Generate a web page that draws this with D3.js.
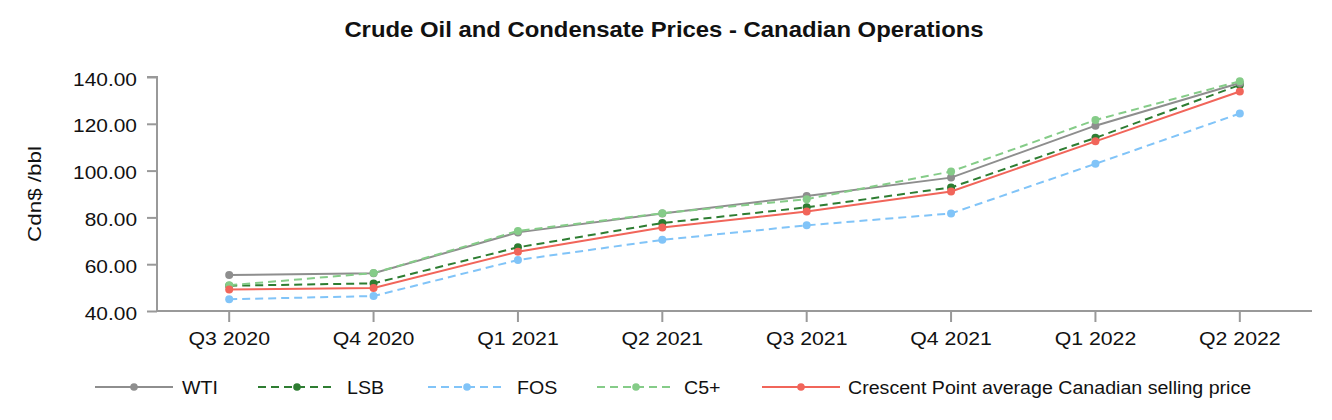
<!DOCTYPE html>
<html><head><meta charset="utf-8">
<script src="https://cdn.jsdelivr.net/npm/d3@7"></script>
<style>body{margin:0;background:#fff;font-family:"Liberation Sans",Arial,sans-serif}</style>
</head><body><svg id="c" width="1332" height="420"></svg>
<script>
const categories = ["Q3 2020","Q4 2020","Q1 2021","Q2 2021","Q3 2021","Q4 2021","Q1 2022","Q2 2022"];
const wti   = [55.4, 56.1, 73.6, 81.7, 89.1, 97.0, 119.2, 137.4];
const lsb   = [50.8, 51.8, 67.2, 77.6, 84.3, 92.8, 114.0, 136.6];
const fos   = [45.0, 46.4, 61.8, 70.4, 76.6, 81.7, 102.9, 124.4];
const c5    = [51.0, 56.2, 74.2, 81.8, 87.8, 99.6, 121.6, 138.2];
const cpg   = [49.2, 49.8, 65.3, 75.7, 82.5, 91.1, 112.5, 133.8];
const yTicks = [40, 60, 80, 100, 120, 140];
const seriesNames = ["WTI","LSB","FOS","C5+","Crescent Point average Canadian selling price"];

const series = [
  {name: seriesNames[0], values: wti, color: "#8e8e8e", dash: null},
  {name: seriesNames[1], values: lsb, color: "#2e7d32", dash: "8,5"},
  {name: seriesNames[2], values: fos, color: "#81c4f8", dash: "8,5"},
  {name: seriesNames[3], values: c5,  color: "#85cc88", dash: "8,5"},
  {name: seriesNames[4], values: cpg, color: "#f1655a", dash: null}
];
const drawOrder = [2, 1, 0, 3, 4];

const svg = d3.select("#c");
const pL = 157, pR = 1312, pT = 77, pB = 311;
const x = d3.scaleBand().domain(categories).range([pL, pR]);
const y = d3.scaleLinear().domain([40, 140]).range([pB, pT]);
const cx = d => x(d) + x.bandwidth() / 2;

function stretch(sel, k) {
  sel.each(function () {
    const w = this.getComputedTextLength();
    d3.select(this).attr("textLength", w * k).attr("lengthAdjust", "spacingAndGlyphs");
  });
}

const title = svg.append("text").attr("x", 664).attr("y", 37).attr("text-anchor", "middle")
  .attr("font-size", 21.5).attr("font-weight", "bold").attr("fill", "#111")
  .text("Crude Oil and Condensate Prices - Canadian Operations");
stretch(title, 1.11);

// y axis
const ya = svg.append("g").attr("transform", `translate(${pL},0)`)
  .call(d3.axisLeft(y).tickValues(yTicks).tickFormat(d3.format(".2f")).tickSize(10).tickPadding(10));
ya.select(".domain").attr("stroke", "#999").attr("stroke-width", 2).attr("d", `M-10,${pT}H0V${pB}`);
ya.selectAll(".tick line").attr("stroke", "#999").attr("stroke-width", 2);
ya.selectAll(".tick text").attr("font-size", 19).attr("fill", "#111").attr("y", 2)
  .attr("font-family", "Liberation Sans, Arial, sans-serif");
stretch(ya.selectAll(".tick text"), 1.1);

// x axis
const xa = svg.append("g").attr("transform", `translate(0,${pB})`)
  .call(d3.axisBottom(x).tickSize(11).tickPadding(10));
xa.select(".domain").attr("stroke", "#999").attr("stroke-width", 2).attr("d", `M${pL},0H${pR}`);
xa.selectAll(".tick line").attr("stroke", "#999").attr("stroke-width", 2);
xa.selectAll(".tick text").attr("font-size", 19).attr("fill", "#111")
  .attr("font-family", "Liberation Sans, Arial, sans-serif");
stretch(xa.selectAll(".tick text"), 1.12);

const yl = svg.append("text").attr("transform", `translate(41,${(pT+pB)/2}) rotate(-90)`)
  .attr("text-anchor", "middle").attr("font-size", 19).attr("fill", "#111").text("Cdn$ /bbl");
stretch(yl, 1.18);

const line = d3.line().x((d, i) => cx(categories[i])).y(d => y(d));
drawOrder.forEach(k => {
  const s = series[k];
  svg.append("path").attr("d", line(s.values)).attr("fill", "none")
    .attr("stroke", s.color).attr("stroke-width", 2).attr("stroke-dasharray", s.dash);
  svg.selectAll(null).data(s.values).enter().append("circle")
    .attr("cx", (d, i) => cx(categories[i])).attr("cy", d => y(d)).attr("r", 4).attr("fill", s.color);
});

// legend
const legX = [95, 258, 428, 597, 762];
const legW = 78;
const legT = [182, 347, 517, 684, 848];
const ly = 387;
series.forEach((s, i) => {
  const g = svg.append("g");
  g.append("line").attr("x1", legX[i]).attr("x2", legX[i] + legW).attr("y1", ly).attr("y2", ly)
    .attr("stroke", s.color).attr("stroke-width", 2).attr("stroke-dasharray", s.dash);
  g.append("circle").attr("cx", legX[i] + legW / 2).attr("cy", ly).attr("r", 3.8).attr("fill", s.color);
  const t = g.append("text").attr("x", legT[i]).attr("y", ly + 6.5).attr("font-size", 17.5).attr("fill", "#111").text(s.name);
  stretch(t, 1.12);
});
</script></body></html>
